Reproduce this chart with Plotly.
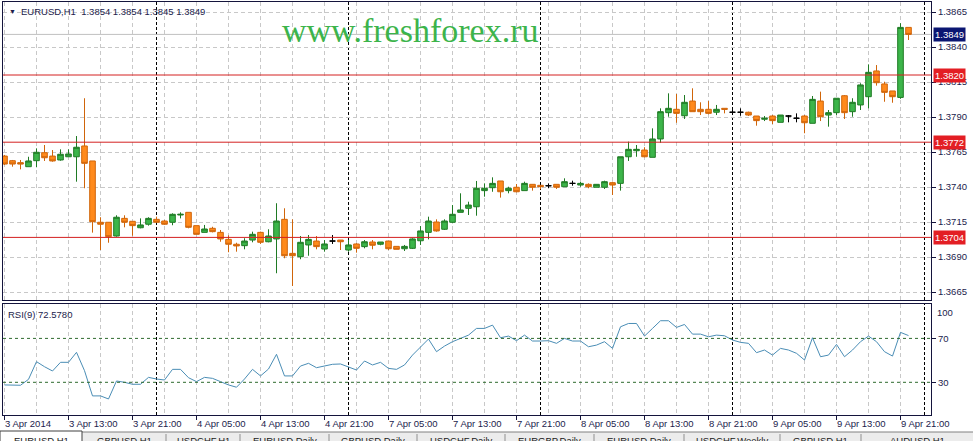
import plotly.graph_objects as go
import pandas as pd

# ---------------- data ----------------
symbol = "EURUSD,H1"
watermark = "www.freshforex.ru"

time_labels = ["3 Apr 2014", "3 Apr 13:00", "3 Apr 21:00", "4 Apr 05:00", "4 Apr 13:00",
               "4 Apr 21:00", "7 Apr 05:00", "7 Apr 13:00", "7 Apr 21:00", "8 Apr 05:00",
               "8 Apr 13:00", "8 Apr 21:00", "9 Apr 05:00", "9 Apr 13:00", "9 Apr 21:00"]

open_p = [1.37621, 1.37588, 1.37574, 1.37545, 1.37588, 1.37645, 1.37621, 1.37593, 1.37616, 1.37616,
          1.37693, 1.37586, 1.37148, 1.37148, 1.37050, 1.37176, 1.37155, 1.37109, 1.37134, 1.37169,
          1.37157, 1.37148, 1.37200, 1.37219, 1.37124, 1.37076, 1.37105, 1.37076, 1.37026, 1.36991,
          1.36981, 1.37021, 1.37076, 1.37009, 1.37029, 1.37169, 1.36926, 1.36902, 1.36986, 1.37014,
          1.36957, 1.37014, 1.37021, 1.36950, 1.36993, 1.36974, 1.37007, 1.36991, 1.37014, 1.36976,
          1.36959, 1.36962, 1.37016, 1.37076, 1.37150, 1.37098, 1.37148, 1.37219, 1.37248, 1.37259,
          1.37374, 1.37395, 1.37443, 1.37374, 1.37398, 1.37374, 1.37419, 1.37412, 1.37409, 1.37419,
          1.37402, 1.37426, 1.37414, 1.37419, 1.37398, 1.37398, 1.37431, 1.37426, 1.37616, 1.37659,
          1.37664, 1.37612, 1.37743, 1.37931, 1.37955, 1.37909, 1.38014, 1.37955, 1.37955, 1.37934,
          1.37962, 1.37934, 1.37934, 1.37934, 1.37907, 1.37884, 1.37907, 1.37862, 1.37907, 1.37891,
          1.37907, 1.37855, 1.38014, 1.37914, 1.37931, 1.38052, 1.37938, 1.37986, 1.38045, 1.38229,
          1.38136, 1.38086, 1.38040, 1.38540]
high_p = [1.37629, 1.37593, 1.37593, 1.37616, 1.37676, 1.37700, 1.37664, 1.37669, 1.37669, 1.37764,
          1.38034, 1.37586, 1.37184, 1.37148, 1.37198, 1.37198, 1.37155, 1.37176, 1.37184, 1.37188,
          1.37164, 1.37212, 1.37219, 1.37219, 1.37124, 1.37129, 1.37116, 1.37093, 1.37055, 1.37002,
          1.37034, 1.37081, 1.37081, 1.37098, 1.37284, 1.37248, 1.37169, 1.37050, 1.37057, 1.37050,
          1.37021, 1.37057, 1.37021, 1.37021, 1.36998, 1.37021, 1.37021, 1.37007, 1.37014, 1.36976,
          1.36986, 1.37034, 1.37121, 1.37188, 1.37169, 1.37169, 1.37271, 1.37355, 1.37295, 1.37443,
          1.37426, 1.37469, 1.37443, 1.37402, 1.37421, 1.37438, 1.37419, 1.37412, 1.37426, 1.37419,
          1.37462, 1.37445, 1.37438, 1.37426, 1.37419, 1.37445, 1.37438, 1.37616, 1.37724, 1.37700,
          1.37684, 1.37819, 1.37962, 1.38069, 1.38064, 1.38057, 1.38105, 1.38005, 1.38014, 1.37986,
          1.37962, 1.37962, 1.37962, 1.37938, 1.37907, 1.37907, 1.37914, 1.37914, 1.37914, 1.37926,
          1.37914, 1.38050, 1.38081, 1.37950, 1.38034, 1.38057, 1.38034, 1.38141, 1.38276, 1.38271,
          1.38152, 1.38086, 1.38570, 1.38540]
low_p = [1.37557, 1.37545, 1.37526, 1.37545, 1.37541, 1.37586, 1.37581, 1.37588, 1.37616, 1.37438,
         1.37391, 1.37074, 1.36950, 1.37002, 1.37045, 1.37112, 1.37052, 1.37105, 1.37124, 1.37148,
         1.37129, 1.37127, 1.37176, 1.37105, 1.37062, 1.37076, 1.37076, 1.37009, 1.36934, 1.36938,
         1.36955, 1.37005, 1.36993, 1.37005, 1.36784, 1.36891, 1.36693, 1.36884, 1.36909, 1.36955,
         1.36938, 1.36993, 1.36950, 1.36938, 1.36931, 1.36962, 1.36955, 1.36984, 1.36950, 1.36955,
         1.36943, 1.36957, 1.36986, 1.37026, 1.37081, 1.37093, 1.37141, 1.37219, 1.37200, 1.37195,
         1.37331, 1.37366, 1.37324, 1.37355, 1.37362, 1.37374, 1.37374, 1.37384, 1.37391, 1.37386,
         1.37402, 1.37409, 1.37402, 1.37391, 1.37398, 1.37386, 1.37343, 1.37374, 1.37586, 1.37616,
         1.37612, 1.37612, 1.37716, 1.37902, 1.37859, 1.37886, 1.37938, 1.37914, 1.37919, 1.37914,
         1.37926, 1.37914, 1.37909, 1.37907, 1.37838, 1.37871, 1.37850, 1.37862, 1.37862, 1.37862,
         1.37784, 1.37855, 1.37871, 1.37831, 1.37914, 1.37886, 1.37902, 1.37950, 1.37962, 1.38124,
         1.38009, 1.38002, 1.38030, 1.38450]
close_p = [1.37564, 1.37564, 1.37564, 1.37586, 1.37648, 1.37609, 1.37586, 1.37634, 1.37636, 1.37684,
           1.37569, 1.37152, 1.37134, 1.37045, 1.37184, 1.37148, 1.37124, 1.37129, 1.37176, 1.37148,
           1.37134, 1.37205, 1.37205, 1.37112, 1.37062, 1.37100, 1.37081, 1.37029, 1.36991, 1.36979,
           1.37014, 1.37062, 1.37005, 1.37050, 1.37157, 1.36909, 1.36909, 1.37005, 1.37026, 1.36974,
           1.36993, 1.37014, 1.37009, 1.36986, 1.36962, 1.37009, 1.36984, 1.37007, 1.36959, 1.36955,
           1.36976, 1.37029, 1.37086, 1.37157, 1.37086, 1.37157, 1.37205, 1.37236, 1.37271, 1.37391,
           1.37391, 1.37426, 1.37366, 1.37391, 1.37366, 1.37426, 1.37398, 1.37402, 1.37409, 1.37398,
           1.37438, 1.37426, 1.37426, 1.37402, 1.37419, 1.37438, 1.37414, 1.37616, 1.37669, 1.37669,
           1.37616, 1.37743, 1.37938, 1.37962, 1.37926, 1.38005, 1.37938, 1.37938, 1.37926, 1.37955,
           1.37955, 1.37934, 1.37934, 1.37914, 1.37874, 1.37891, 1.37874, 1.37914, 1.37907, 1.37891,
           1.37859, 1.38026, 1.37902, 1.37931, 1.38034, 1.37931, 1.38005, 1.38129, 1.38219, 1.38145,
           1.38076, 1.38045, 1.38540, 1.38490]

rsi9 = [27.6, 27.3, 27.3, 32.7, 48.8, 44.2, 40.3, 48.2, 48.2, 57.3,
        40.6, 17.6, 17.6, 14.8, 31.2, 30.0, 28.2, 28.2, 34.5, 33.0,
        32.1, 41.8, 41.8, 34.2, 30.6, 34.5, 33.6, 30.6, 27.6, 25.5,
        33.0, 41.8, 35.8, 42.1, 55.5, 35.8, 35.8, 44.8, 47.3, 43.3,
        44.8, 46.4, 46.7, 44.2, 41.2, 49.4, 45.8, 48.2, 42.7, 41.8,
        45.8, 54.8, 62.4, 69.4, 57.9, 63.0, 67.0, 70.0, 73.0, 79.1,
        79.1, 82.1, 70.6, 72.1, 67.9, 73.0, 67.6, 67.6, 67.9, 65.5,
        70.0, 67.6, 67.6, 62.4, 63.9, 67.0, 60.9, 80.6, 83.6, 83.6,
        72.1, 79.1, 86.1, 86.1, 80.0, 82.7, 73.9, 73.9, 71.5, 73.0,
        72.4, 68.5, 66.4, 65.5, 57.0, 59.4, 54.8, 60.9, 59.4, 56.4,
        50.3, 70.6, 53.3, 54.8, 64.5, 53.3, 59.4, 67.0, 72.1, 67.0,
        57.9, 53.9, 75.5, 72.578]

sr_levels = [1.3820, 1.3772, 1.3704]
rsi_levels = [70, 30]
price_ticks = [1.3865, 1.3840, 1.3815, 1.3790, 1.3765, 1.3740, 1.3715, 1.3690, 1.3665]
rsi_edge_labels = ["100", "0"]
tab_names = ["EURUSD,H1", "GBPUSD,H1", "USDCHF,H1", "EURUSD,Daily", "GBPUSD,Daily",
             "USDCHF,Daily", "EURGBP,Daily", "EURUSD,Daily", "USDCHF,Weekly", "GBPUSD,H1", "AUDUSD,H1"]

# ---------------- geometry / style ----------------
W, H = 973, 441
L, R, T, B = 3, 931, 2, 415          # plot box edges in pixels
PRICE_BOTTOM, RSI_TOP = 300, 303.5


def xp(px):
    return (px - L) / (R - L)


def yp(py):
    return (B - py) / (B - T)


FONT = "Liberation Sans"
FS = 9.5
TXT = "#1c1c4c"
FRAME = "#14143c"
GRID = "#c8c8c8"
G_LINE, G_FILL = "#1f7a24", "#3cb54a"
O_LINE, O_FILL = "#d0650a", "#ff8a1c"
RED = "#d42020"

n = len(close_p)
bars = list(range(n))
times = pd.date_range("2014-04-03 05:00", "2014-04-04 23:00", freq="h").append(
    pd.date_range("2014-04-07 00:00", "2014-04-09 22:00", freq="h"))
label_idx = [i for i, t in enumerate(times) if (t.hour - 5) % 8 == 0]
minor_idx = [i for i, t in enumerate(times) if (t.hour - 1) % 8 == 0]
day_starts = [i for i, t in enumerate(times) if t.hour == 0] + [n + 1]

is_doji = [o == c for o, c in zip(open_p, close_p)]


def sel(seq, keep):
    return [v for v, k in zip(seq, is_doji) if k == keep]


fig = go.Figure()
fig.add_trace(go.Candlestick(
    x=sel(bars, False), open=sel(open_p, False), high=sel(high_p, False),
    low=sel(low_p, False), close=sel(close_p, False),
    increasing=dict(line=dict(color=G_LINE, width=1), fillcolor=G_FILL),
    decreasing=dict(line=dict(color=O_LINE, width=1), fillcolor=O_FILL),
    whiskerwidth=0, xaxis="x", yaxis="y", showlegend=False, name=symbol))
fig.add_trace(go.Candlestick(
    x=sel(bars, True), open=sel(open_p, True), high=sel(high_p, True),
    low=sel(low_p, True), close=sel(close_p, True),
    increasing=dict(line=dict(color="#000000", width=1), fillcolor="#000000"),
    decreasing=dict(line=dict(color="#000000", width=1), fillcolor="#000000"),
    whiskerwidth=0, xaxis="x", yaxis="y", showlegend=False, name=symbol))
fig.add_trace(go.Scatter(x=bars, y=rsi9, mode="lines", line=dict(color="#4a8db5", width=1),
                         xaxis="x2", yaxis="y2", showlegend=False, name="RSI(9)"))

xrange = [(L - 4.5) / 8, (R - 4.5) / 8]
common_x = dict(range=xrange, tickmode="array", tickvals=label_idx, showticklabels=False,
                showgrid=True, gridcolor=GRID, griddash="4px,3px", gridwidth=1,
                minor=dict(tickmode="array", tickvals=minor_idx, showgrid=True, gridcolor=GRID,
                           griddash="4px,3px", ticks=""),
                showline=True, mirror=True, linecolor=FRAME, linewidth=1, zeroline=False,
                fixedrange=True)

fig.update_layout(
    width=W, height=H, paper_bgcolor="white", plot_bgcolor="white",
    margin=dict(l=L, r=W - R, t=T, b=H - B, autoexpand=False),
    boxgap=0.3, boxgroupgap=0,
    font=dict(family=FONT, size=FS, color=TXT),
    showlegend=False,
    xaxis=dict(domain=[0, 1], anchor="y", ticks="", rangeslider=dict(visible=False), **common_x),
    xaxis2=dict(domain=[0, 1], anchor="y2", matches="x", ticks="outside", ticklen=4,
                tickcolor=FRAME, **common_x),
    yaxis=dict(domain=[yp(PRICE_BOTTOM), 1], anchor="x", side="right",
               range=[1.3865 - (PRICE_BOTTOM - 12) / 14000, 1.3865 + (12 - T) / 14000],
               tickmode="array", tickvals=price_ticks, ticktext=[f"{v:.4f}" for v in price_ticks],
               ticks="outside", ticklen=4, tickcolor=FRAME,
               showgrid=True, gridcolor=GRID, griddash="4px,3px",
               showline=True, mirror=True, linecolor=FRAME, zeroline=False,
               tickfont=dict(family=FONT, size=FS, color=TXT), fixedrange=True),
    yaxis2=dict(domain=[0, yp(RSI_TOP)], anchor="x2", side="right", range=[0.2, 101.8],
                tickmode="array", tickvals=rsi_levels, ticktext=[str(v) for v in rsi_levels],
                ticks="outside", ticklen=4, tickcolor=FRAME, showgrid=False,
                showline=True, mirror=True, linecolor=FRAME, zeroline=False,
                tickfont=dict(family=FONT, size=FS, color=TXT), fixedrange=True),
)

shapes = []
# day separators (both panels)
for d in day_starts:
    for yr in ("y domain", "y2 domain"):
        shapes.append(dict(type="line", xref="x", yref=yr, x0=d, x1=d, y0=0, y1=1, layer="below",
                           line=dict(color="#000000", width=1, dash="3px,2px")))
# current price line
shapes.append(dict(type="line", xref="x domain", yref="y", x0=0, x1=1, y0=close_p[-1], y1=close_p[-1],
                   layer="below", line=dict(color="#c0c0c0", width=1)))
# support / resistance levels
for lv in sr_levels:
    shapes.append(dict(type="line", xref="x domain", yref="y", x0=0, x1=1, y0=lv, y1=lv,
                       line=dict(color=RED, width=1)))
# RSI levels
for lv in rsi_levels:
    shapes.append(dict(type="line", xref="x2 domain", yref="y2", x0=0, x1=1, y0=lv, y1=lv,
                       line=dict(color="#2e6b2e", width=1, dash="3px,3px")))
# bottom tab strip
tab_edges = [0, 82, 166, 240, 329, 417, 505, 594, 684, 780, 861, 973]
shapes.append(dict(type="rect", xref="paper", yref="paper", x0=xp(0), x1=xp(W), y0=yp(H + 2), y1=yp(432),
                   fillcolor="#ececec", line=dict(width=0)))
shapes.append(dict(type="line", xref="paper", yref="paper", x0=xp(0), x1=xp(W), y0=yp(432), y1=yp(432),
                   line=dict(color="#808080", width=1)))
shapes.append(dict(type="rect", xref="paper", yref="paper", x0=xp(0), x1=xp(tab_edges[1]),
                   y0=yp(H + 2), y1=yp(431), fillcolor="white", line=dict(color="#404040", width=1)))
for e in tab_edges[2:-1]:
    shapes.append(dict(type="line", xref="paper", yref="paper", x0=xp(e), x1=xp(e), y0=yp(H + 2), y1=yp(434),
                       line=dict(color="#909090", width=1)))
fig.update_layout(shapes=shapes)

ann = []
# header
ann.append(dict(xref="paper", yref="paper", x=xp(7), y=yp(11), xanchor="left", yanchor="middle",
                text="▼", showarrow=False, font=dict(size=7, color=TXT)))
ann.append(dict(xref="paper", yref="paper", x=xp(19), y=yp(11), xanchor="left", yanchor="middle",
                text=f"{symbol}\u00a0\u00a0{open_p[-1]:.4f} {high_p[-1]:.4f} {low_p[-1]:.4f} {close_p[-1]:.4f}",
                showarrow=False, font=dict(size=9.5, color=TXT)))
# watermark
ann.append(dict(xref="paper", yref="paper", x=xp(410), y=yp(31), xanchor="center", yanchor="middle",
                text=watermark, showarrow=False,
                font=dict(family="Liberation Serif", size=34, color="#3cb44b")))
# RSI caption
ann.append(dict(xref="paper", yref="paper", x=xp(6), y=yp(314), xanchor="left", yanchor="middle",
                text=f"RSI(9) {rsi9[-1]:.4f}", showarrow=False, font=dict(size=FS, color=TXT)))
# RSI edge labels
ann.append(dict(xref="paper", yref="y2", x=xp(935), y=100, xanchor="left", yanchor="top",
                text=rsi_edge_labels[0], showarrow=False, font=dict(size=FS, color=TXT)))
ann.append(dict(xref="paper", yref="y2", x=xp(935), y=0, xanchor="left", yanchor="bottom",
                text=rsi_edge_labels[1], showarrow=False, font=dict(size=FS, color=TXT)))
# level price boxes
for lv in sr_levels:
    ann.append(dict(xref="paper", yref="y", x=xp(933), y=lv, xanchor="left", yanchor="middle",
                    text=f"{lv:.4f}", showarrow=False, bgcolor="#e31e24", borderpad=1,
                    font=dict(size=FS, color="white")))
ann.append(dict(xref="paper", yref="y", x=xp(933), y=close_p[-1], xanchor="left", yanchor="middle",
                text=f"{close_p[-1]:.4f}", showarrow=False, bgcolor="#0b1672", borderpad=1,
                font=dict(size=FS, color="white")))
# time labels
for i, lab in zip(label_idx, time_labels):
    ann.append(dict(xref="x2", yref="paper", x=i, y=yp(423), xanchor="left", yanchor="middle",
                    xshift=-2, text=lab, showarrow=False, font=dict(size=FS, color=TXT)))
# tab labels (cut by window bottom)
for k, name in enumerate(tab_names):
    cx = (tab_edges[k] + tab_edges[k + 1]) / 2
    ann.append(dict(xref="paper", yref="paper", x=xp(cx), y=yp(433), xanchor="center", yanchor="top",
                    text=name, showarrow=False, font=dict(size=FS, color="#202020")))
fig.update_layout(annotations=ann)

fig.write_html("out.html", config={"displayModeBar": False},
               post_script="document.body.style.margin='0';document.body.style.overflow='hidden';")
